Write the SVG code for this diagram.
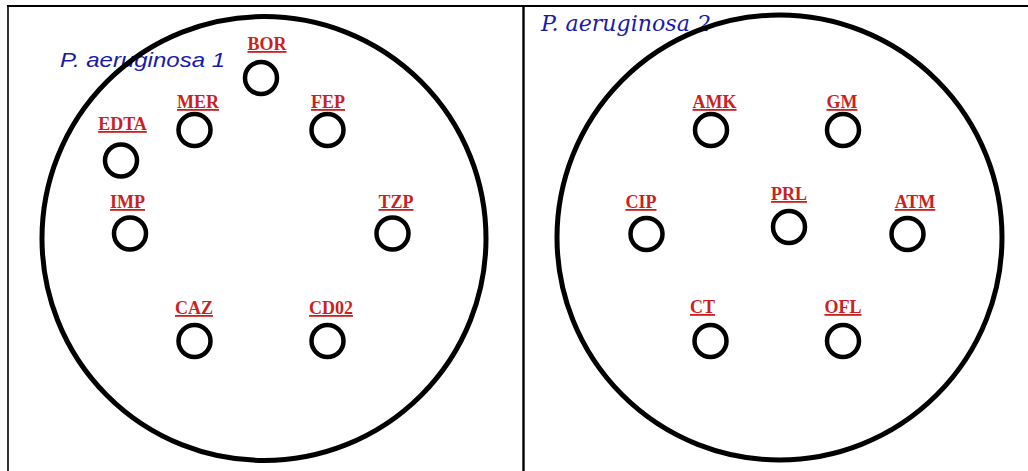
<svg xmlns="http://www.w3.org/2000/svg" width="1028" height="471" viewBox="0 0 1028 471">
<style>
.frame{stroke:#000;fill:none}
.plate{fill:none;stroke:#000;stroke-width:5}
.disk{fill:none;stroke:#000;stroke-width:4.5}
.lbl{font-family:"Liberation Serif",serif;font-weight:bold;font-size:18px;fill:#cc1f1f;text-anchor:middle;text-decoration:underline}
.t1{font-family:"Liberation Sans",sans-serif;font-style:italic;font-size:21px;fill:#1a1aa8}
.t2{font-family:"DejaVu Serif",serif;font-style:italic;font-size:23px;fill:#1a1aa8}
</style>
<rect width="1028" height="471" fill="#fff"/>
<g id="frame" class="frame">
<line x1="7" y1="6" x2="1028" y2="6" stroke-width="2"/>
<line x1="8" y1="5" x2="8" y2="471" stroke-width="1.6"/>
<line x1="523.5" y1="5" x2="523.5" y2="471" stroke-width="2.4"/>
</g>
<g id="plate1">
<text class="t1" x="60" y="67" textLength="165" lengthAdjust="spacingAndGlyphs">P. aeruginosa 1</text>
<circle class="plate" cx="264" cy="238.5" r="222"/>
</g>
<g id="plate2">
<text class="t2" x="541" y="31" textLength="170" lengthAdjust="spacingAndGlyphs">P. aeruginosa 2</text>
<circle class="plate" cx="779.5" cy="237.5" r="222.5"/>
</g>
<g id="BOR"><circle class="disk" cx="261" cy="78" r="16"/><text class="lbl" x="267" y="50">BOR</text></g>
<g id="MER"><circle class="disk" cx="194.5" cy="130" r="16"/><text class="lbl" x="198" y="108">MER</text></g>
<g id="FEP"><circle class="disk" cx="327.5" cy="130" r="16"/><text class="lbl" x="328" y="108">FEP</text></g>
<g id="EDTA"><circle class="disk" cx="121" cy="160.5" r="16"/><text class="lbl" x="122.5" y="130">EDTA</text></g>
<g id="IMP"><circle class="disk" cx="130" cy="233.5" r="16"/><text class="lbl" x="127.5" y="208">IMP</text></g>
<g id="TZP"><circle class="disk" cx="392.5" cy="233.5" r="16"/><text class="lbl" x="396" y="208">TZP</text></g>
<g id="CAZ"><circle class="disk" cx="194.5" cy="341" r="16"/><text class="lbl" x="194" y="314">CAZ</text></g>
<g id="CD02"><circle class="disk" cx="327.5" cy="341" r="16"/><text class="lbl" x="331" y="314">CD02</text></g>
<g id="AMK"><circle class="disk" cx="711" cy="130" r="16"/><text class="lbl" x="714.5" y="108">AMK</text></g>
<g id="GM"><circle class="disk" cx="843" cy="130" r="16"/><text class="lbl" x="842" y="108">GM</text></g>
<g id="CIP"><circle class="disk" cx="646.5" cy="234" r="16"/><text class="lbl" x="641" y="208">CIP</text></g>
<g id="PRL"><circle class="disk" cx="789" cy="227" r="16"/><text class="lbl" x="789" y="200">PRL</text></g>
<g id="ATM"><circle class="disk" cx="907.5" cy="234" r="16"/><text class="lbl" x="915" y="208">ATM</text></g>
<g id="CT"><circle class="disk" cx="710.5" cy="341" r="16"/><text class="lbl" x="702.5" y="313">CT</text></g>
<g id="OFL"><circle class="disk" cx="843" cy="341" r="16"/><text class="lbl" x="843" y="313">OFL</text></g>
<g id="connectors"></g>
</svg>
